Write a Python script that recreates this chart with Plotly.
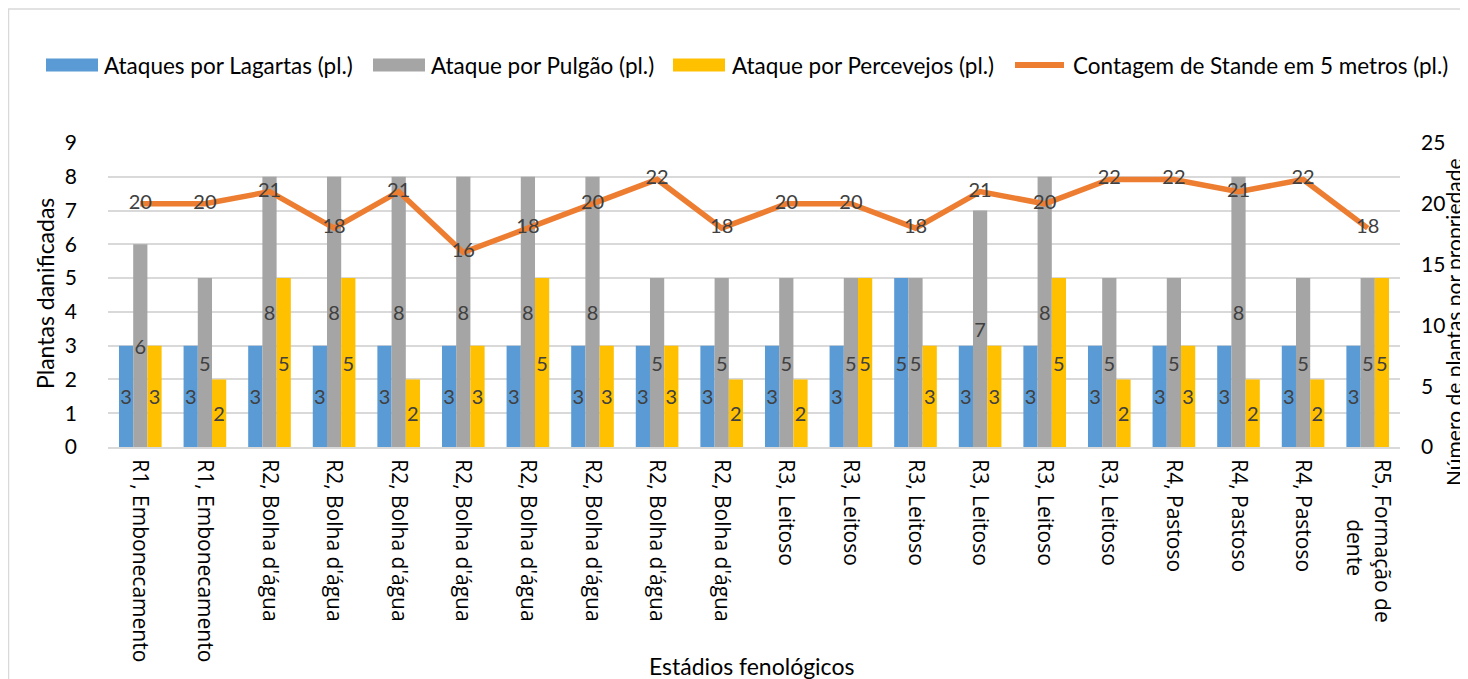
import plotly.graph_objects as go

categories = [
    "R1, Embonecamento", "R1, Embonecamento",
    "R2, Bolha d'água", "R2, Bolha d'água", "R2, Bolha d'água", "R2, Bolha d'água",
    "R2, Bolha d'água", "R2, Bolha d'água", "R2, Bolha d'água", "R2, Bolha d'água",
    "R3, Leitoso", "R3, Leitoso", "R3, Leitoso", "R3, Leitoso", "R3, Leitoso", "R3, Leitoso",
    "R4, Pastoso", "R4, Pastoso", "R4, Pastoso",
    "R5, Formação de<br>dente",
]
lagartas = [3, 3, 3, 3, 3, 3, 3, 3, 3, 3, 3, 3, 5, 3, 3, 3, 3, 3, 3, 3]
pulgao = [6, 5, 8, 8, 8, 8, 8, 8, 5, 5, 5, 5, 5, 7, 8, 5, 5, 8, 5, 5]
percevejos = [3, 2, 5, 5, 2, 3, 5, 3, 3, 2, 2, 5, 3, 3, 5, 2, 3, 2, 2, 5]
stande = [20, 20, 21, 18, 21, 16, 18, 20, 22, 18, 20, 20, 18, 21, 20, 22, 22, 21, 22, 18]

names = ["Ataques por Lagartas (pl.)", "Ataque por Pulgão (pl.)",
         "Ataque por Percevejos (pl.)", "Contagem de Stande em 5 metros (pl.)"]
colors = ["#5B9BD5", "#A5A5A5", "#FFC000", "#ED7D31"]

y_title = "Plantas danificadas"
y2_title = "Número de plantas por propriedade"
x_title = "Estádios fenológicos"

FONT = "Lato"
TICKFONT = "Open Sans"
x = list(range(len(categories)))
# centre the wrapped second line of a tick label (figure spaces as padding)
ticktext = [c.replace("<br>", "<br>" + "\u2007" * 5) for c in categories]

fig = go.Figure()
for vals, nm, col in zip([lagartas, pulgao, percevejos], names[:3], colors[:3]):
    fig.add_trace(go.Bar(
        x=x, y=vals, name=nm, marker=dict(color=col, line=dict(width=0)),
        text=[str(v) for v in vals], textposition="inside", insidetextanchor="middle",
        textangle=0, constraintext="none",
        textfont=dict(family=FONT, size=20, color="#404040"),
        yaxis="y", showlegend=False,
    ))
fig.add_trace(go.Scatter(
    x=x, y=stande, name=names[3], mode="lines+text",
    line=dict(color=colors[3], width=5.5),
    text=[str(v) for v in stande], textposition="middle center",
    textfont=dict(family=FONT, size=20, color="#404040"),
    yaxis="y2", showlegend=False,
))

# page body has an 8px margin; target coordinates below are in screenshot pixels
OFF = 8
PL, PR, PT, PB = 108, 1400, 143, 447
W, H = 1468 - OFF, 679 - OFF
ml, mr, mt, mb = PL - OFF, (OFF + W) - PR, PT - OFF, (OFF + H) - PB
pw, ph = PR - PL, PB - PT


def px2x(p):
    return (p - PL) / pw


def py2y(p):
    return (PB - p) / ph


shapes = [dict(type="rect", xref="paper", yref="paper",
               x0=px2x(8.5), x1=px2x(1475), y0=py2y(9), y1=py2y(700),
               line=dict(color="#D9D9D9", width=1.5), layer="below")]
annotations = []

# manual legend (swatch left edge, text left edge) in screenshot pixels
legend_pos = [(46, 102), (373, 429), (673, 730), (1012, 1071)]
LEG_Y = 65
for i, ((sx, tx), nm, col) in enumerate(zip(legend_pos, names, colors)):
    if i < 3:
        shapes.append(dict(type="rect", xref="paper", yref="paper",
                           x0=px2x(sx), x1=px2x(sx + 52), y0=py2y(LEG_Y - 6.5), y1=py2y(LEG_Y + 6.5),
                           line=dict(width=0), fillcolor=col, layer="above"))
    else:
        shapes.append(dict(type="line", xref="paper", yref="paper",
                           x0=px2x(sx + 3), x1=px2x(sx + 52), y0=py2y(LEG_Y), y1=py2y(LEG_Y),
                           line=dict(color=col, width=6), layer="above"))
    annotations.append(dict(text=nm, xref="paper", yref="paper", x=px2x(tx), y=py2y(LEG_Y),
                            xanchor="left", yanchor="middle", showarrow=False,
                            font=dict(family=FONT, size=22.5, color="#000000")))

annotations += [
    dict(text=x_title, x=px2x(751), xref="paper", y=py2y(666), yref="paper",
         xanchor="center", yanchor="middle", showarrow=False,
         font=dict(family=FONT, size=23, color="#000000")),
    dict(text=y_title, x=px2x(45), xref="paper", y=py2y(294), yref="paper",
         xanchor="center", yanchor="middle", showarrow=False, textangle=-90,
         font=dict(family=FONT, size=23, color="#000000")),
    dict(text=y2_title, x=px2x(1453), xref="paper", y=py2y(322), yref="paper",
         xanchor="center", yanchor="middle", showarrow=False, textangle=-90,
         borderpad=0,
         font=dict(family=FONT, size=21, color="#000000")),
]

fig.update_layout(
    width=W, height=H,
    margin=dict(l=ml, r=mr, t=mt, b=mb, autoexpand=False),
    paper_bgcolor="white", plot_bgcolor="white",
    font=dict(family=FONT, color="#000000"),
    barmode="group", bargap=0.34, bargroupgap=0,
    showlegend=False,
    xaxis=dict(
        range=[-0.5, len(categories) - 0.5], tickmode="array", tickvals=x, ticktext=ticktext,
        tickangle=90, tickfont=dict(family=TICKFONT, size=21, color="#000000"),
        showgrid=False, zeroline=False, showline=True, linecolor="#D9D9D9", linewidth=2,
        ticks="", ticklabelstandoff=6,
    ),
    yaxis=dict(
        range=[0, 9], dtick=1, showgrid=True, gridcolor="#D9D9D9", gridwidth=2,
        zeroline=False, ticks="", tickfont=dict(family=FONT, size=21, color="#000000"),
        ticklabelstandoff=30,
    ),
    yaxis2=dict(
        range=[0, 25], dtick=5, overlaying="y", side="right", showgrid=False,
        zeroline=False, ticks="", tickfont=dict(family=FONT, size=21, color="#000000"),
        ticklabelstandoff=20,
    ),
    annotations=annotations,
    shapes=shapes,
)

fig.write_html("out.html")
